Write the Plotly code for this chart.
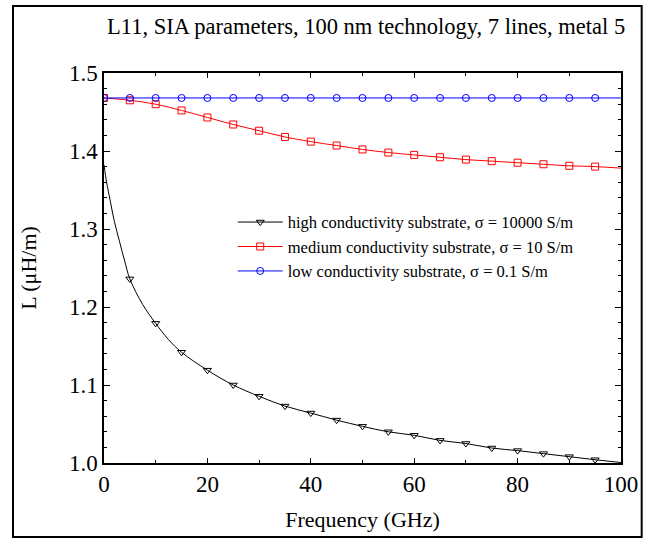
import plotly.graph_objects as go

# ---- data ----
freq_markers = [0, 5, 10, 15, 20, 25, 30, 35, 40, 45, 50, 55, 60, 65, 70, 75, 80, 85, 90, 95]

# high conductivity (black) : smooth curve points and marker points
high_line_f = [0, 0.5, 1, 2, 3, 4, 5, 7.5, 10, 12.5, 15, 20, 25, 30, 35, 40, 45, 50, 55, 60, 65, 70, 75, 80, 85, 90, 95, 100]
high_line_L = [1.382, 1.360, 1.343, 1.310, 1.284, 1.259, 1.236, 1.203, 1.179, 1.158, 1.142, 1.119, 1.100, 1.0855, 1.073, 1.064, 1.055,
               1.047, 1.040, 1.0355, 1.029, 1.025, 1.0192, 1.0159, 1.012, 1.0081, 1.0042, 1.0006]
high_mark_f = [5, 10, 15, 20, 25, 30, 35, 40, 45, 50, 55, 60, 65, 70, 75, 80, 85, 90, 95]
high_mark_L = [1.236, 1.179, 1.142, 1.119, 1.100, 1.0855, 1.073, 1.064, 1.055, 1.047, 1.040, 1.0355, 1.029, 1.025, 1.0192,
               1.0159, 1.012, 1.0081, 1.0042]

# medium conductivity (red)
med_line_f = [0, 5, 10, 15, 20, 25, 30, 35, 40, 45, 50, 55, 60, 65, 70, 75, 80, 85, 90, 95, 100]
med_line_L = [1.468, 1.465, 1.460, 1.452, 1.443, 1.434, 1.426, 1.418, 1.412, 1.407, 1.402, 1.398, 1.395, 1.392, 1.389,
              1.387, 1.385, 1.383, 1.381, 1.380, 1.378]
med_mark_f = freq_markers
med_mark_L = med_line_L[:-1]

# low conductivity (blue)
low_line_f = [0, 100]
low_line_L = [1.468, 1.468]
low_mark_f = freq_markers
low_mark_L = [1.468] * len(freq_markers)

x_ticks = [0, 20, 40, 60, 80, 100]
y_ticks = [1.0, 1.1, 1.2, 1.3, 1.4, 1.5]
y_tick_text = ["1.0", "1.1", "1.2", "1.3", "1.4", "1.5"]

series = [
    ("high conductivity substrate, σ = 10000 S/m", high_line_f, high_line_L, high_mark_f, high_mark_L,
     "black", "triangle-down-open"),
    ("medium conductivity substrate, σ = 10 S/m", med_line_f, med_line_L, med_mark_f, med_mark_L,
     "red", "square-open"),
    ("low conductivity substrate, σ = 0.1 S/m", low_line_f, low_line_L, low_mark_f, low_mark_L,
     "blue", "circle-open"),
]

FONT = "Liberation Serif"

fig = go.Figure()
for name, lf, lL, mf, mL, col, sym in series:
    fig.add_trace(go.Scatter(x=lf, y=lL, mode="lines", line=dict(color=col, width=1, shape="spline"),
                             showlegend=False, hoverinfo="skip"))
    fig.add_trace(go.Scatter(x=mf, y=mL, mode="markers", name=name,
                             marker=dict(symbol=sym, size=7, color=col, line=dict(color=col, width=1)),
                             showlegend=False))
    # legend entry: line + marker
    fig.add_trace(go.Scatter(x=[None], y=[None], mode="lines+markers", name=name,
                             line=dict(color=col, width=1),
                             marker=dict(symbol=sym, size=7, color=col, line=dict(color=col, width=1))))

fig.update_layout(
    width=652, height=540,
    margin=dict(l=104, r=31, t=73, b=77),
    paper_bgcolor="white", plot_bgcolor="white",
    font=dict(family=FONT, size=20, color="black"),
    showlegend=True,
    legend=dict(x=0.249, y=0.662, xanchor="left", yanchor="top", bgcolor="rgba(0,0,0,0)",
                font=dict(family=FONT, size=16.5, color="black"), itemwidth=45, tracegroupgap=0),
    shapes=[dict(type="rect", xref="paper", yref="paper", x0=-0.176, x1=1.04, y0=-0.19, y1=1.172,
                 line=dict(color="black", width=2), fillcolor="rgba(0,0,0,0)", layer="below")],
    annotations=[dict(text="L11, SIA parameters, 100 nm technology, 7 lines, metal 5", xref="paper", yref="paper",
                      x=1.012, y=1.12, xanchor="right", yanchor="middle", showarrow=False,
                      font=dict(family=FONT, size=22.5, color="black"))],
)
fig.update_xaxes(range=[0, 100], tickvals=x_ticks, ticks="inside", ticklen=5, tickwidth=1, tickcolor="black",
                 showline=True, linecolor="black", linewidth=1.5, mirror="allticks", showgrid=False, zeroline=False,
                 automargin=False,
                 minor=dict(dtick=10, ticks="inside", ticklen=3, tickcolor="black"),
                 tickfont=dict(family=FONT, size=23, color="black"),
                 title=dict(text="Frequency (GHz)", standoff=15, font=dict(family=FONT, size=22, color="black")))
fig.update_yaxes(range=[1.0, 1.5], tickvals=y_ticks, ticktext=y_tick_text, ticks="inside", ticklen=6, tickwidth=1,
                 tickcolor="black", showline=True, linecolor="black", linewidth=1.5, mirror="allticks",
                 showgrid=False, zeroline=False, automargin=False,
                 minor=dict(dtick=0.02, ticks="inside", ticklen=3, tickcolor="black"),
                 tickfont=dict(family=FONT, size=23, color="black"),
                 title=dict(text="L (μH/m)", standoff=26, font=dict(family=FONT, size=22, color="black")))

fig.write_html("out.html", post_script="document.body.style.margin='0';",
               config={"displayModeBar": False})
